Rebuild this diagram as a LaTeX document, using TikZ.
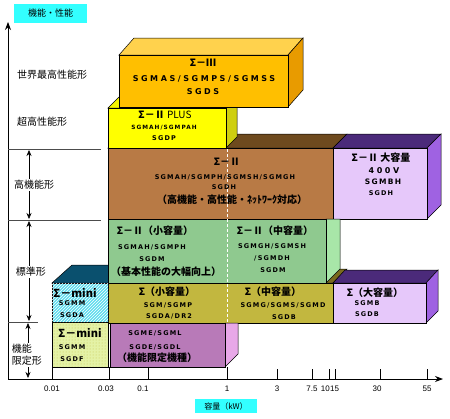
\documentclass[tikz,border=0pt]{standalone}
\usepackage{fontspec}
\usetikzlibrary{arrows.meta,patterns}
\newfontfamily\jpfont{Noto Sans CJK JP}
\newfontfamily\modelfont[LetterSpace=18]{DejaVu Sans}
\newfontfamily\widefont[LetterSpace=32]{DejaVu Sans}
\newfontfamily\tickfont{Liberation Sans}

\definecolor{titlecyan}{HTML}{33FFFF}
\definecolor{orfront}{HTML}{FFBF00}
\definecolor{ortop}{HTML}{FFD24D}
\definecolor{orside}{HTML}{E89B00}
\definecolor{yefront}{HTML}{FFFF00}
\definecolor{yetop}{HTML}{F4F400}
\definecolor{yeside}{HTML}{CFCF10}
\definecolor{brfront}{HTML}{B87A45}
\definecolor{brtop}{HTML}{6E4A1E}
\definecolor{lvfront}{HTML}{E6C8FA}
\definecolor{lvtop}{HTML}{4B2A7A}
\definecolor{lvside}{HTML}{9F62E2}
\definecolor{grfront}{HTML}{8FC98F}
\definecolor{grside}{HTML}{A8E6A8}
\definecolor{olfront}{HTML}{C2B73F}
\definecolor{oltop}{HTML}{7A6A1E}
\definecolor{mvfront}{HTML}{B87AB8}
\definecolor{mvside}{HTML}{E8A8E8}
\definecolor{cyfront}{HTML}{5FDDEE}
\definecolor{cytop}{HTML}{0A506E}
\definecolor{ygfront}{HTML}{E4F2A6}

\begin{document}
\begin{tikzpicture}[x=1pt,y=-1pt,
    face/.style={draw=black,line width=0.5pt},
    sepline/.style={draw=black!70,line width=0.8pt},
    hdr/.style={font=\jpfont\bfseries\fontsize{10}{12}\selectfont,inner sep=0pt},
    minihdr/.style={font=\jpfont\bfseries\fontsize{11}{13}\selectfont,inner sep=0pt},
    mdl/.style={font=\modelfont\bfseries\fontsize{6.5}{8}\selectfont,inner sep=0pt},
    mdlmid/.style={font=\modelfont\bfseries\fontsize{7.5}{9}\selectfont,inner sep=0pt},
    mdlbig/.style={font=\widefont\bfseries\fontsize{8}{10}\selectfont,inner sep=0pt},
    seclbl/.style={font=\jpfont\fontsize{10}{12}\selectfont,inner sep=1pt},
    ticklbl/.style={font=\tickfont\fontsize{8}{9.6}\selectfont,inner sep=0pt}]
    \useasboundingbox (0,0) rectangle (450,418);

    % Axis titles
    \fill[titlecyan] (14,4) rectangle (87,23);
    \node[seclbl,font=\jpfont\fontsize{9}{11}\selectfont] (perftitle) at (50.5,13.5) {機能・性能};
    \fill[titlecyan] (195,399) rectangle (257,413);
    \node[seclbl,font=\jpfont\fontsize{8}{10}\selectfont] (kwtitle) at (226,406) {容量（kW）};

    % Brown top (Sigma-II)
    \filldraw[face,fill=brtop] (108,148) -- (333,148) -- (347,134) -- (122,134) -- cycle;

    % Yellow box (Sigma-II PLUS)
    \filldraw[face,fill=yetop] (108,108) -- (226,108) -- (237,97) -- (119,97) -- cycle;
    \filldraw[face,fill=yeside] (226,108) -- (237,97) -- (237,137) -- (226,148) -- cycle;
    \filldraw[face,fill=yefront] (108,108) rectangle (226,148);

    % Orange box (Sigma-III)
    \filldraw[face,fill=ortop] (119,55) -- (288,55) -- (303,38) -- (134,38) -- cycle;
    \filldraw[face,fill=orside] (288,55) -- (303,38) -- (303,90) -- (288,107) -- cycle;
    \filldraw[face,fill=orfront] (119,55) rectangle (288,107);

    % Brown front
    \filldraw[face,fill=brfront] (108,148) rectangle (333,219);

    % Lavender box (Sigma-II large)
    \filldraw[face,fill=lvtop] (333,148) -- (427,148) -- (441,134) -- (347,134) -- cycle;
    \filldraw[face,fill=lvside] (427,148) -- (441,134) -- (441,205) -- (427,219) -- cycle;
    \filldraw[face,fill=lvfront] (333,148) rectangle (427,219);

    % Hidden tops of the lower rows
    \filldraw[face,fill=cytop] (52,283) -- (108,283) -- (128,265) -- (72,265) -- cycle;
    \filldraw[face,fill=oltop] (108,283) -- (333,283) -- (347,269) -- (122,269) -- cycle;

    % Green box (Sigma-II small / medium)
    \filldraw[face,fill=grside] (326,219) -- (340,219) -- (340,269) -- (326,283) -- cycle;
    \filldraw[face,fill=grfront] (108,219) rectangle (326,283);

    % Olive row (Sigma small / medium)
    \filldraw[face,fill=olfront] (108,283) rectangle (333,323);

    % Lavender box (Sigma large)
    \filldraw[face,fill=lvtop] (333,283) -- (426,283) -- (438,270) -- (345,270) -- cycle;
    \filldraw[face,fill=lvside] (426,283) -- (438,270) -- (438,311) -- (426,323) -- cycle;
    \filldraw[face,fill=lvfront] (333,283) rectangle (426,323);

    % Sigma-mini boxes
    \filldraw[face,fill=cyfront] (52,283) rectangle (108,322);
    \fill[pattern=north east lines,pattern color=white] (52,283) rectangle (108,322);
    \filldraw[face,fill=ygfront] (52,322) rectangle (108,367);
    \fill[pattern=dots,pattern color=olive!45] (52.5,322.5) rectangle (107.5,366.5);

    % Mauve box (limited function)
    \filldraw[face,fill=mvside] (225,323) -- (238,323) -- (238,354) -- (225,367) -- cycle;
    \filldraw[face,fill=mvfront] (110,323) rectangle (225,367);

    % 1 kW dashed line
    \draw[white,line width=1pt,dash pattern=on 3pt off 2pt] (227,149) -- (227,322);

    % Axes
    \draw[line width=0.8pt,-{Stealth[length=8pt,width=6pt]}] (8,379) -- (8,22);
    \draw[line width=0.8pt,-{Stealth[length=8pt,width=6pt]}] (8,379) -- (443,379);

    % Ticks
    \foreach \tx in {52,109,148,227} \draw[line width=0.6pt] (\tx,367) -- (\tx,379);
    \foreach \tx in {277,312,329,335,380,427} \draw[line width=0.6pt] (\tx,369) -- (\tx,379);
    \node[ticklbl] (t001) at (52,389) {0.01};
    \node[ticklbl] (t003) at (106,389) {0.03};
    \node[ticklbl] (t01) at (143,389) {0.1};
    \node[ticklbl] (t1) at (227,389) {1};
    \node[ticklbl] (t3) at (277,389) {3};
    \node[ticklbl] (t75) at (312,389) {7.5};
    \node[ticklbl,anchor=east] (t10) at (330,389) {10};
    \node[ticklbl,anchor=west] (t15) at (330,389) {15};
    \node[ticklbl] (t30) at (377,389) {30};
    \node[ticklbl] (t55) at (427,389) {55};

    % Section lines
    \draw[sepline] (8,149) -- (101,149);
    \draw[sepline] (8,220) -- (101,220);
    \draw[sepline] (8,322) -- (38,322);

    % Section labels
    \node[seclbl,anchor=west] (lblworld) at (16,75) {世界最高性能形};
    \node[seclbl,anchor=west] (lblsuper) at (16,122) {超高性能形};
    \draw[line width=0.6pt,{Stealth[length=6pt,width=5pt]}-{Stealth[length=6pt,width=5pt]}] (29,150) -- (29,219);
    \node[seclbl,fill=white] (lblhigh) at (34,185) {高機能形};
    \draw[line width=0.6pt,{Stealth[length=6pt,width=5pt]}-{Stealth[length=6pt,width=5pt]}] (29,221) -- (29,321);
    \node[seclbl,fill=white] (lblstd) at (31,272) {標準形};
    \draw[line width=0.6pt,{Stealth[length=6pt,width=5pt]}-{Stealth[length=6pt,width=5pt]}] (28,323) -- (28,378);
    \node[seclbl,fill=white,align=left] (lbllim) at (27,355) {機能\\限定形};

    % Sigma-III texts
    \node[hdr] (s3hdr) at (203,63) {Σ－Ⅲ};
    \node[mdlbig] (s3mot) at (204,79) {SGMAS/SGMPS/SGMSS};
    \node[mdlbig] (s3amp) at (203,92) {SGDS};

    % Sigma-II PLUS texts
    \node[hdr] (plushdr) at (165,115) {Σ－Ⅱ {\mdseries PLUS}};
    \node[mdl,font=\modelfont\bfseries\fontsize{5.8}{7}\selectfont] (plusmot) at (164,128) {SGMAH/SGMPAH};
    \node[mdl] (plusamp) at (164,138) {SGDP};

    % Sigma-II texts
    \node[hdr] (s2hdr) at (227,162) {Σ－Ⅱ};
    \node[mdl] (s2mot) at (225,177) {SGMAH/SGMPH/SGMSH/SGMGH};
    \node[mdl] (s2amp) at (224,187) {SGDH};
    \node[hdr] (s2note) at (232,200) {（高機能・高性能・ﾈｯﾄﾜｰｸ対応）};

    % Sigma-II large texts
    \node[hdr] (bighdr) at (381,158) {Σ－Ⅱ 大容量};
    \node[mdlbig] (bigvolt) at (384,171) {400V};
    \node[mdlmid] (bigmot) at (383,182) {SGMBH};
    \node[mdl] (bigamp) at (381,193) {SGDH};

    % Sigma-II small / medium texts
    \node[hdr] (smhdr) at (155,231) {Σ－Ⅱ（小容量）};
    \node[mdl] (smmot) at (152,247) {SGMAH/SGMPH};
    \node[mdl] (smamp) at (152,259) {SGDM};
    \node[hdr] (smnote) at (166,272) {（基本性能の大幅向上）};
    \node[hdr] (mdhdr) at (275,231) {Σ－Ⅱ（中容量）};
    \node[mdl] (mdmot) at (272,246) {SGMGH/SGMSH};
    \node[mdl] (mdmot2) at (272,258) {/SGMDH};
    \node[mdl] (mdamp) at (273,270) {SGDM};

    % Sigma small / medium / large texts
    \node[hdr] (osmhdr) at (167,292) {Σ（小容量）};
    \node[mdl] (osmmot) at (168,305) {SGM/SGMP};
    \node[mdl] (osmamp) at (169,316) {SGDA/DR2};
    \node[hdr] (omdhdr) at (273,292) {Σ（中容量）};
    \node[mdl] (omdmot) at (283,305) {SGMG/SGMS/SGMD};
    \node[mdl] (omdamp) at (284,317) {SGDB};
    \node[hdr] (olghdr) at (375,293) {Σ（大容量）};
    \node[mdl] (olgmot) at (367,303) {SGMB};
    \node[mdl] (olgamp) at (367,314) {SGDB};

    % Limited function texts
    \node[mdl] (limmot) at (155,333) {SGME/SGML};
    \node[mdl] (limamp) at (155,347) {SGDE/SGDL};
    \node[hdr] (limnote) at (157,358) {（機能限定機種）};

    % Sigma-mini texts
    \node[minihdr] (minihdrA) at (75,293) {Σ－mini};
    \node[mdl] (minimotA) at (72,303) {SGMM};
    \node[mdl] (miniampA) at (72,315) {SGDA};
    \node[minihdr] (minihdrB) at (80,333) {Σ－mini};
    \node[mdl] (minimotB) at (72,347) {SGMM};
    \node[mdl] (miniampB) at (72,359) {SGDF};
\end{tikzpicture}
\end{document}
